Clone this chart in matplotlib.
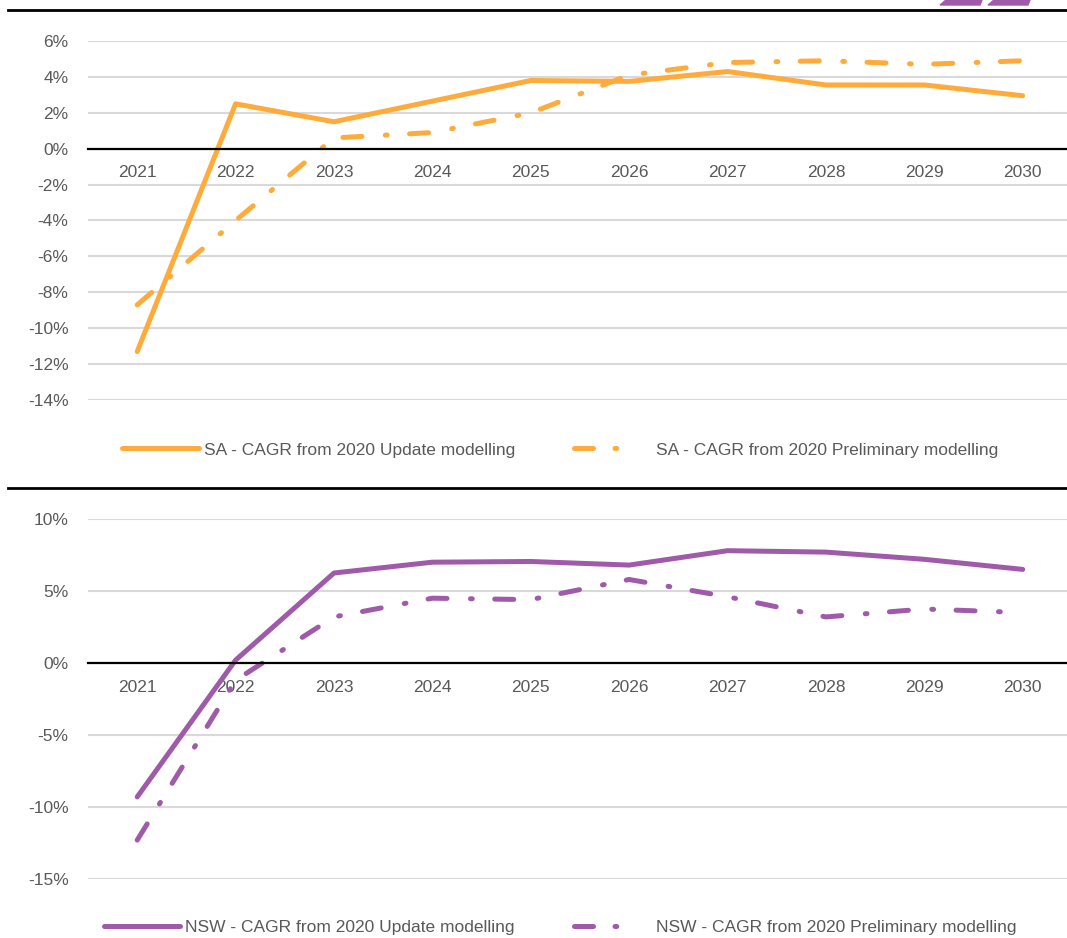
import matplotlib.pyplot as plt
from matplotlib.patches import Polygon
from matplotlib.lines import Line2D
from matplotlib.ticker import FuncFormatter, MultipleLocator

plt.rcParams['font.family'] = ['Liberation Sans Narrow', 'Liberation Sans', 'DejaVu Sans']

years = ['2021', '2022', '2023', '2024', '2025', '2026', '2027', '2028', '2029', '2030']

# CAGR values (%)
sa_update = [-11.3, 2.5, 1.5, 2.65, 3.8, 3.75, 4.3, 3.55, 3.55, 2.95]
sa_prelim = [-8.7, -4.0, 0.6, 0.9, 2.0, 4.1, 4.8, 4.9, 4.7, 4.9]
nsw_update = [-9.3, 0.2, 6.25, 7.0, 7.05, 6.8, 7.8, 7.7, 7.2, 6.5]
nsw_prelim = [-12.3, -1.2, 3.2, 4.5, 4.4, 5.8, 4.6, 3.2, 3.75, 3.5]

orange = '#FFAB3B'
purple = '#A05AAA'
grey_txt = '#595959'
lw = 3.6
dashdot = (0, (3.8, 4.7, 0.35, 4.5))
legend_dashdot = (0, (3.8, 4.3, 0.35, 7.0))

W, H = 1067, 938
fig = plt.figure(figsize=(W / 100, H / 100), dpi=100)


def make_axes(top_px, bottom_px, ylim, step):
    ax = fig.add_axes([88 / W, 1 - bottom_px / H, 1 - 88 / W, (bottom_px - top_px) / H])
    ax.set_xlim(-0.5, 9.45)
    ax.set_ylim(*ylim)
    ax.yaxis.set_major_locator(MultipleLocator(step))
    ax.yaxis.set_major_formatter(FuncFormatter(lambda v, p: '%d%%' % round(v)))
    for s in ['top', 'right', 'left']:
        ax.spines[s].set_visible(False)
    ax.spines['bottom'].set_position(('data', 0))
    ax.spines['bottom'].set_linewidth(1.6)
    ax.spines['bottom'].set_color('black')
    ax.set_xticks(range(len(years)))
    ax.set_xticklabels(years)
    ax.tick_params(axis='x', length=0, pad=12, labelsize=12.5, labelcolor=grey_txt)
    ax.tick_params(axis='y', length=0, pad=14, labelsize=12.5, labelcolor=grey_txt)
    ax.grid(axis='y', color='#D9D9D9', linewidth=1.5)
    ax.set_axisbelow(True)
    return ax


def add_legend(color, labels, ypx):
    handles = [Line2D([], [], color=color, lw=lw, solid_capstyle='round'),
               Line2D([], [], color=color, lw=lw, linestyle=legend_dashdot,
                      dash_capstyle='round')]
    leg = fig.legend(handles, labels, loc='center', ncol=2,
                     bbox_to_anchor=(560 / W, 1 - ypx / H), frameon=False,
                     handlelength=4.4, columnspacing=3.4, handletextpad=0.3,
                     fontsize=12.5)
    for t in leg.get_texts():
        t.set_color(grey_txt)


x = range(len(years))

ax1 = make_axes(41, 400, (-14, 6), 2)
ax1.plot(x, sa_update, color=orange, lw=lw, solid_capstyle='round',
         solid_joinstyle='round', clip_on=False)
ax1.plot(x, sa_prelim, color=orange, lw=lw, linestyle=dashdot,
         dash_capstyle='round', clip_on=False)
add_legend(orange, ['SA - CAGR from 2020 Update modelling',
                    'SA - CAGR from 2020 Preliminary modelling'], 450)

ax2 = make_axes(519, 879, (-15, 10), 5)
ax2.plot(x, nsw_update, color=purple, lw=lw, solid_capstyle='round',
         solid_joinstyle='round', clip_on=False)
ax2.plot(x, nsw_prelim, color=purple, lw=lw, linestyle=dashdot,
         dash_capstyle='round', clip_on=False)
add_legend(purple, ['NSW - CAGR from 2020 Update modelling',
                    'NSW - CAGR from 2020 Preliminary modelling'], 927)

# separator lines above each panel
for ypx in [10, 488]:
    fig.add_artist(Line2D([8 / W, 1], [1 - ypx / H, 1 - ypx / H], color='black', lw=2,
                          transform=fig.transFigure))

# partial logo at top right
for x0 in [940, 988]:
    pts = [(x0 + 6, 0), (x0 + 42, 0), (x0 + 40, 5), (x0, 5)]
    fig.add_artist(Polygon([(px / W, 1 - py / H) for px, py in pts], closed=True,
                           color=purple, transform=fig.transFigure))

fig.savefig('out.png', dpi=100)
